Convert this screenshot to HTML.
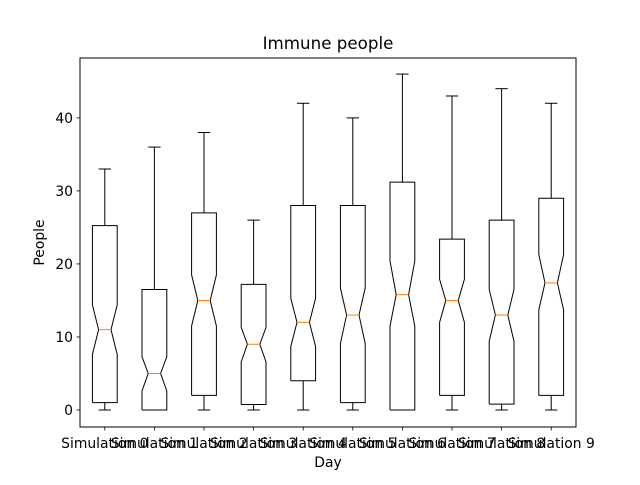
<!DOCTYPE html>
<html><head><meta charset="utf-8"><style>
html,body{margin:0;padding:0;background:#fff}
svg text{font-family:"DejaVu Sans","Liberation Sans",sans-serif;fill:#000}
</style></head><body>
<svg id="chart" width="640" height="480" viewBox="0 0 640 480" xmlns="http://www.w3.org/2000/svg">
<rect width="640" height="480" fill="#fff"/>
<text x="328" y="49" font-size="16.7" text-anchor="middle">Immune people</text>
<text x="328" y="467" font-size="13.9" text-anchor="middle">Day</text>
<text transform="translate(44,242.5) rotate(-90)" font-size="13.9" text-anchor="middle">People</text>
<g id="marks"></g>
<rect x="80" y="58" width="496" height="369" fill="none" stroke="#000" stroke-width="1"/>
</svg>
<script>
const categories = ["Simulation 0","Simulation 1","Simulation 2","Simulation 3","Simulation 4","Simulation 5","Simulation 6","Simulation 7","Simulation 8","Simulation 9"];
const whiskerLow = [0,0,0,0,0,0,0,0,0,0];
const q1 = [1,0,2,0.75,4,1,0,2,0.8,2];
const medians = [11,5,15,9,12,13,15.8,15,13,17.4];
const q3 = [25.25,16.5,27,17.2,28,28,31.2,23.4,26,29];
const whiskerHigh = [33,36,38,26,42,40,46,43,44,42];
const notchLow = [7.6,2.6,11.5,6.6,8.7,9.1,11.5,12,9.4,13.7];
const notchHigh = [14.4,7.3,18.5,11.3,15.3,16.7,20.4,17.9,16.5,21.3];
const yTicks = [0,10,20,30,40];

const L=80,R=576,T=58,B=427, yMin=-2.33, yMax=48.2;
const xS = i => L + (i + 0.5) * (R - L) / categories.length;
const yS = v => B - (v - yMin) / (yMax - yMin) * (B - T);
const NS="http://www.w3.org/2000/svg";
const g=document.getElementById('marks');
function mk(tag, attrs){const e=document.createElementNS(NS,tag);for(const k in attrs)e.setAttribute(k,attrs[k]);g.appendChild(e);return e;}

yTicks.forEach(t=>{
  const y=yS(t);
  const tk=mk('line',{x1:L-3.5,x2:L,y1:y,y2:y,stroke:'#000','stroke-width':0.8});
  
  
  const tx=mk('text',{x:L-7,y:y+5,'font-size':13.9,'text-anchor':'end'});
  tx.textContent=t;
  
  
});

const bw=12.4, nw=6.2, cw=6.2;
categories.forEach((c,i)=>{
  const x=xS(i);
  const tk=mk('line',{x1:x,x2:x,y1:B,y2:B+3.5,stroke:'#000','stroke-width':0.8});
  
  
  const tx=mk('text',{x:x,y:B+21,'font-size':13.9,'text-anchor':'middle'});
  tx.textContent=c;
  
  

  const yq1=yS(q1[i]), yq3=yS(q3[i]), ym=yS(medians[i]), yl=yS(notchLow[i]), yh=yS(notchHigh[i]);
  const pts=[[x-bw,yq1],[x+bw,yq1],[x+bw,yl],[x+nw,ym],[x+bw,yh],[x+bw,yq3],[x-bw,yq3],[x-bw,yh],[x-nw,ym],[x-bw,yl],[x-bw,yq1]];
  const box=mk('polyline',{points:pts.map(p=>p.join(',')).join(' '),fill:'none',stroke:'#000','stroke-width':1});
  
  
  const wl=mk('line',{x1:x,x2:x,y1:yq1,y2:yS(whiskerLow[i]),stroke:'#000','stroke-width':1});
  
  
  const wh=mk('line',{x1:x,x2:x,y1:yq3,y2:yS(whiskerHigh[i]),stroke:'#000','stroke-width':1});
  
  
  const cl=mk('line',{x1:x-cw,x2:x+cw,y1:yS(whiskerLow[i]),y2:yS(whiskerLow[i]),stroke:'#000','stroke-width':1});
  
  
  const ch=mk('line',{x1:x-cw,x2:x+cw,y1:yS(whiskerHigh[i]),y2:yS(whiskerHigh[i]),stroke:'#000','stroke-width':1});
  
  
  const md=mk('line',{x1:x-nw,x2:x+nw,y1:ym,y2:ym,stroke:'#ff7f0e','stroke-width':1});
  
  
});
</script>
</body></html>
